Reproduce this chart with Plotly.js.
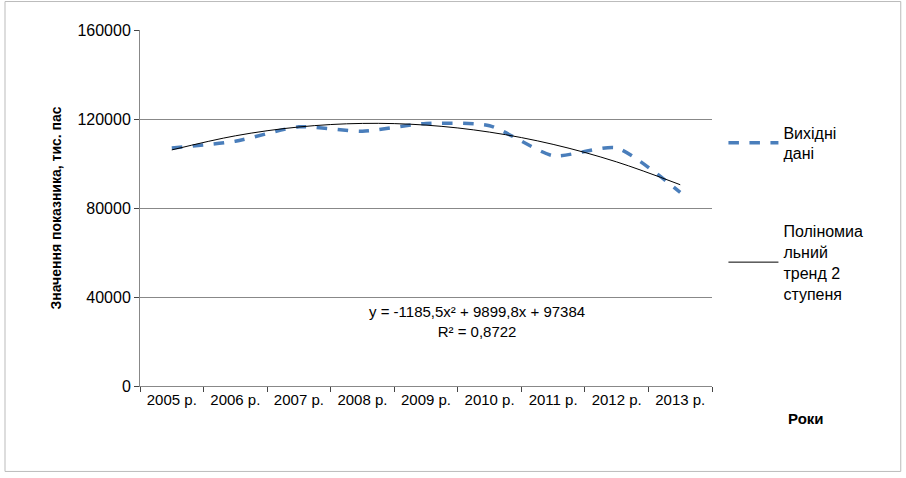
<!DOCTYPE html>
<html><head><meta charset="utf-8">
<script src="https://cdn.plot.ly/plotly-3.0.1.min.js"></script>
<style>body{margin:0}#chart{width:906px;height:478px}</style>
</head><body><div id="chart"></div>
<script>
var years = ['2005 р.', '2006 р.', '2007 р.', '2008 р.', '2009 р.', '2010 р.', '2011 р.', '2012 р.', '2013 р.'];
var source_vals = [107000, 110000, 116500, 114500, 118000, 117000, 103500, 107000, 87000];
var trend_vals = [106098, 112442, 116415, 118017, 117248, 114108, 108597, 100715, 90462];

var font_main = 'Liberation Sans, Arial, sans-serif';

var data = [{
    x: years, y: source_vals, mode: 'lines', name: 'Вихідні<br>дані',
    line: {color: '#4a7ebb', width: 3.5, dash: 'dash', shape: 'spline', smoothing: 0.6},
    legendgroup: 'a'
}, {
    x: years, y: trend_vals, mode: 'lines', name: 'Поліномиа<br>льний<br>тренд 2<br>ступеня',
    line: {color: '#000', width: 1, shape: 'spline'},
    legendgroup: 'b'
}];

var layout = {
    width: 906, height: 478,
    margin: {l: 140, r: 194, t: 30, b: 92},
    font: {family: font_main, size: 14, color: '#000'},
    paper_bgcolor: '#fff', plot_bgcolor: '#fff',
    xaxis: {
        type: 'category', tickson: 'boundaries', ticks: 'outside', ticklen: 5,
        range: [-0.5, 8.5],
        showline: true, linecolor: '#888', showgrid: false,
        tickfont: {size: 15}
    },
    yaxis: {
        range: [0, 160000], tickvals: [0, 40000, 80000, 120000, 160000],
        ticks: 'outside', ticklen: 5, showline: true, linecolor: '#888',
        gridcolor: '#888', gridwidth: 1, tickformat: 'd', tickfont: {size: 16},
        title: {text: '<b>Значення показника, тис. пас</b>', font: {size: 14}, standoff: 12}
    },
    showlegend: true,
    legend: {x: 1.02, y: 0.76, yanchor: 'top', traceorder: 'grouped', tracegroupgap: 54,
             font: {size: 16}, itemwidth: 50},
    annotations: [
        {xref: 'paper', yref: 'paper', x: 0.59, y: 0.125, showarrow: false,
         text: 'y = -1185,5x² + 9899,8x + 97384<br>R² = 0,8722', font: {size: 15}},
        {xref: 'paper', yref: 'paper', x: 1.2, y: -0.12, showarrow: false,
         text: '<b>Роки</b>', font: {size: 15}}
    ],
    shapes: [{type: 'rect', xref: 'paper', yref: 'paper', x0: -0.236, x1: 1.33, y0: -0.24, y1: 1.08,
              line: {color: '#bbb', width: 1}}]
};

Plotly.newPlot('chart', data, layout, {displayModeBar: false});
</script></body></html>
